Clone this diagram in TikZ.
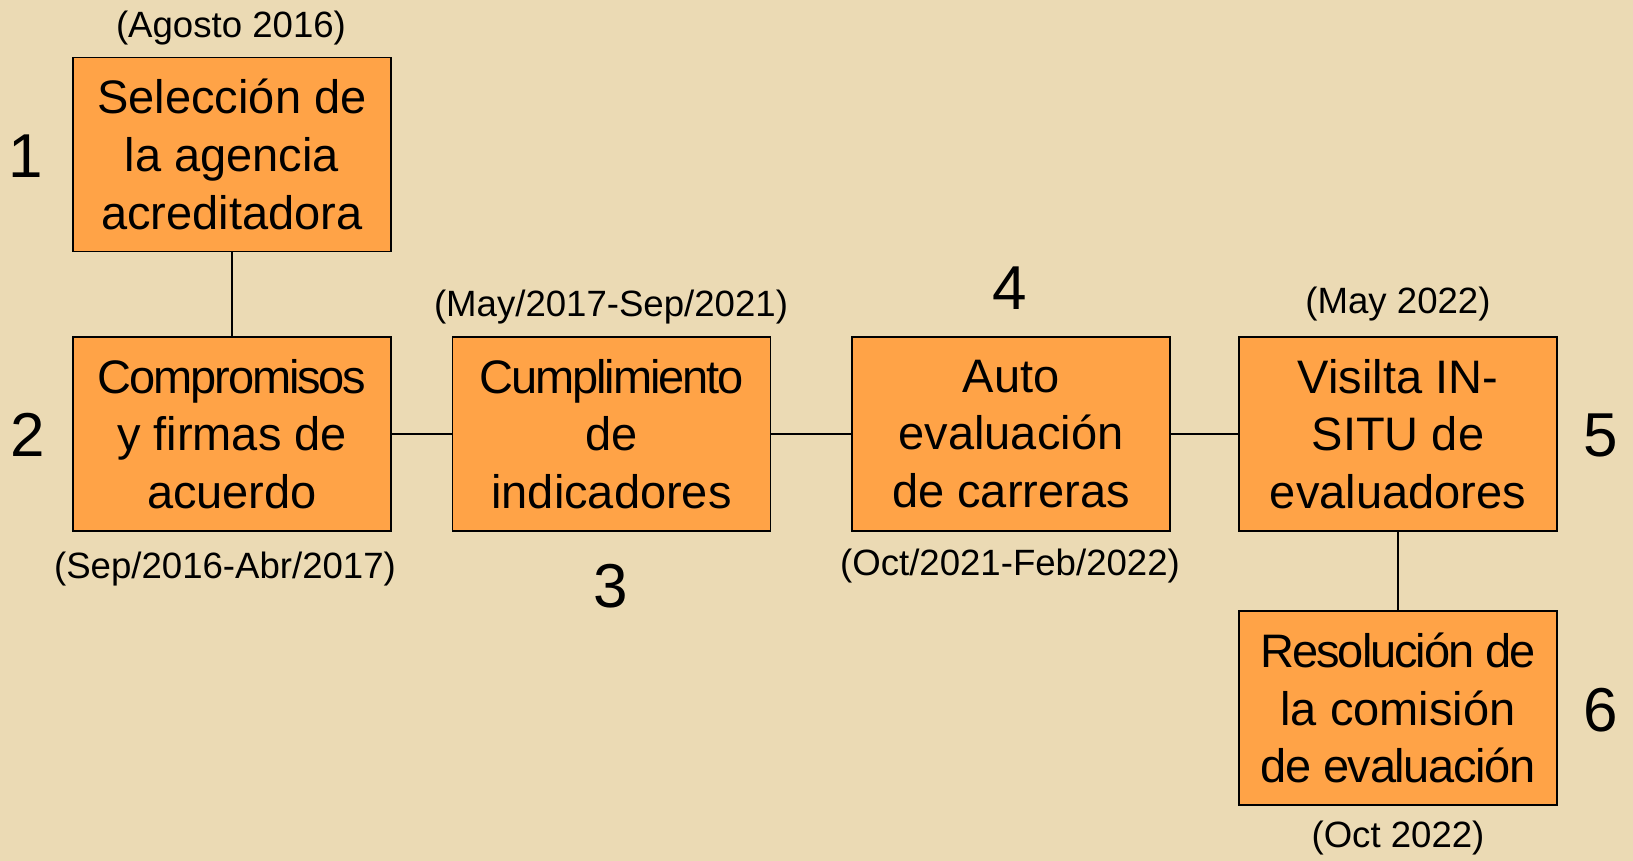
\documentclass[tikz,border=0pt]{standalone}
\usepackage{fontspec}
\setmainfont{Liberation Sans}
\definecolor{bgc}{HTML}{EBDAB4}
\definecolor{boxc}{HTML}{FFA347}
\newcommand{\tightln}[2][-4.5]{{\addfontfeature{LetterSpace=#1}#2}}
\begin{document}
\begin{tikzpicture}[x=1pt,y=-1pt,
  stepbox/.style={draw=black,line width=1.3pt,fill=boxc,minimum width=318pt,minimum height=194pt,inner sep=0pt,align=center,font=\fontsize{47}{57.8}\selectfont},
  datelbl/.style={inner sep=0pt,font=\fontsize{36.6}{40}\selectfont},
  numlbl/.style={inner sep=0pt,font=\fontsize{62}{66}\selectfont},
  conn/.style={line width=1.3pt,draw=black}]
\fill[bgc] (0,0) rectangle (1633,861);
\useasboundingbox (0,0) rectangle (1633,861);
\node[stepbox] (b1) at (232,154.5) {Selección de\\la agencia\\acreditadora};
\node[stepbox] (b2) at (232,434) {\tightln{Compromisos}\\y firmas de\\acuerdo};
\node[stepbox] (b3) at (611.5,434) {\tightln{Cumplimiento}\\de\\indicadores};
\node[stepbox] (b4) at (1011,434) {Auto\\evaluación\\de carreras};
\node[stepbox] (b5) at (1398,434) {Visilta IN-\\SITU de\\evaluadores};
\node[stepbox] (b6) at (1398,708) {\tightln{Resolución de}\\la comisión\\\tightln[-3]{de evaluación}};
\draw[conn] (b1.south) -- (b2.north);
\draw[conn] (b2.east) -- (b3.west);
\draw[conn] (b3.east) -- (b4.west);
\draw[conn] (b4.east) -- (b5.west);
\draw[conn] (b5.south) -- (b6.north);
\node[datelbl] (d1) at (231,28) {(Agosto 2016)};
\node[datelbl] (d2) at (225,569) {(Sep/2016-Abr/2017)};
\node[datelbl] (d3) at (611,307) {(May/2017-Sep/2021)};
\node[datelbl] (d4) at (1010,566) {(Oct/2021-Feb/2022)};
\node[datelbl] (d5) at (1398,304) {(May 2022)};
\node[datelbl] (d6) at (1398,838) {(Oct 2022)};
\node[numlbl] (n1) at (26,156) {1};
\node[numlbl] (n2) at (28,435) {2};
\node[numlbl] (n3) at (611,586) {3};
\node[numlbl] (n4) at (1010,288) {4};
\node[numlbl] (n5) at (1601,435) {5};
\node[numlbl] (n6) at (1601,710) {6};
\end{tikzpicture}
\end{document}
